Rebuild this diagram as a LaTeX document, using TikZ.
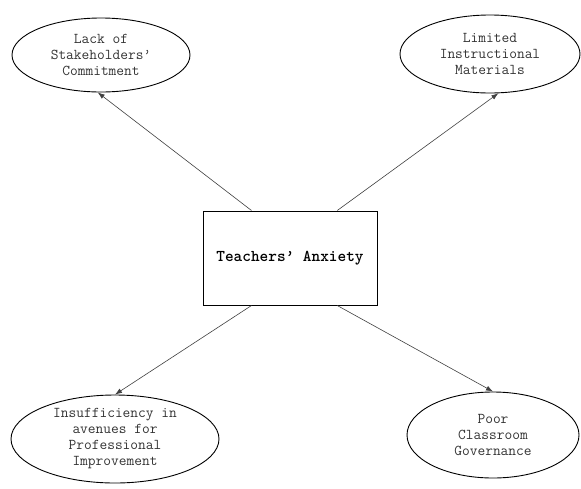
\documentclass[tikz,border=0pt]{standalone}
\usepackage{fontspec}
\usetikzlibrary{shapes.geometric,arrows.meta,calc}
\tikzset{
  cause/.style={ellipse, draw, line width=0.9pt, inner sep=0pt, align=center,
    font=\fontsize{15}{16}\selectfont\ttfamily, text=black!80},
  core/.style={rectangle, draw, line width=1pt, inner sep=0pt,
    font=\fontsize{16.5}{18}\selectfont\ttfamily\bfseries},
  link/.style={draw=black!75, line width=0.6pt, -{Latex[length=7pt,width=5pt]}}
}
\begin{document}
\begin{tikzpicture}[x=1pt,y=-1pt]
\useasboundingbox (0,0) rectangle (581,488);
\node[core, minimum width=174pt, minimum height=94pt] (box) at (290,258) {Teachers’ Anxiety};
\node[cause, minimum width=178pt, minimum height=74pt] (tl) at (101,55) {Lack of\\Stakeholders’\\Commitment};
\node[cause, minimum width=180pt, minimum height=78pt] (tr) at (490,54) {Limited\\Instructional\\Materials};
\node[cause, minimum width=208pt, minimum height=88pt] (bl) at (115,439) {Insufficiency in\\avenues for\\Professional\\Improvement};
\node[cause, minimum width=172pt, minimum height=86pt] (br) at (493,435) {Poor\\Classroom\\Governance};
\draw[link] ($(box.north west)!0.28!(box.north east)$) -- (tl.265);
\draw[link] ($(box.north west)!0.77!(box.north east)$) -- (tr.-78);
\draw[link] ($(box.south west)!0.28!(box.south east)$) -- (bl.north);
\draw[link] ($(box.south west)!0.77!(box.south east)$) -- (br.north);
\end{tikzpicture}
\end{document}
